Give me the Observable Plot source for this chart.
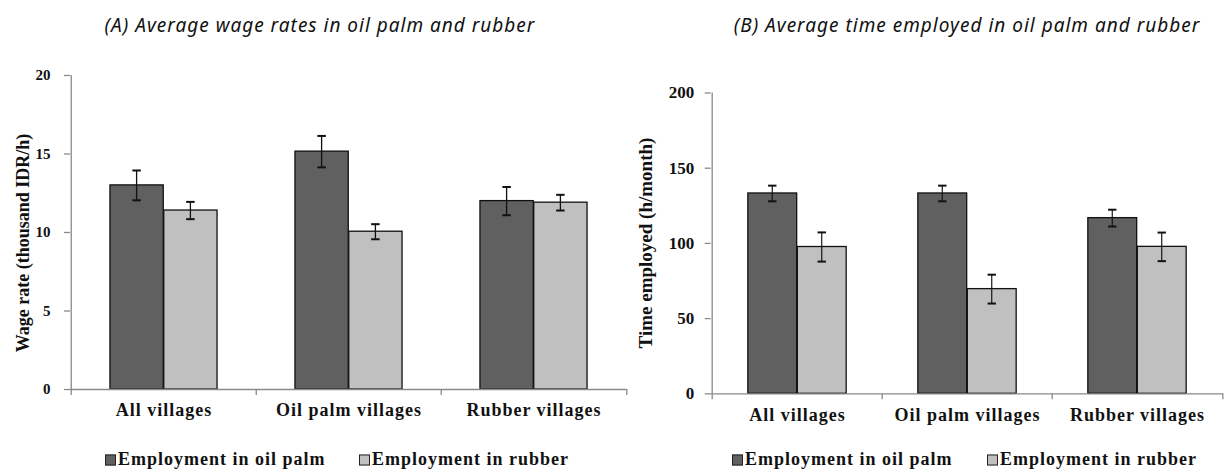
<!DOCTYPE html>
<html>
<head>
<meta charset="utf-8">
<script src="https://cdn.jsdelivr.net/npm/d3@7"></script>
<script src="https://cdn.jsdelivr.net/npm/@observablehq/plot@0.6"></script>
<style>
  html, body { margin: 0; padding: 0; background: #fff; }
  #root { position: relative; width: 1228px; height: 470px; overflow: hidden; background: #fff; }
  #root svg { position: absolute; top: 0; background: transparent; max-width: none; }
  .title { position: absolute; font-family: "Noto Sans", sans-serif; font-style: italic; font-size: 19px; letter-spacing: 1px; color: #111; white-space: nowrap; transform: translate(-50%, -50%); }
  .ylab { position: absolute; font-family: "Liberation Serif", serif; font-weight: bold; color: #111; white-space: nowrap; transform: translate(-50%, -50%) rotate(-90deg); }
  .leg { position: absolute; font-family: "Liberation Serif", serif; font-weight: bold; font-size: 18px; letter-spacing: 1px; color: #111; white-space: nowrap; transform: translateY(-50%); }
  .sw { position: absolute; width: 9px; height: 9px; border: 1px solid #222; transform: translateY(-50%); }
  g[aria-label="x-axis tick label"] text { letter-spacing: 1px; }
</style>
</head>
<body>
<div id="root"></div>
<script>
const categories = ["All villages", "Oil palm villages", "Rubber villages"];
const series = ["Employment in oil palm", "Employment in rubber"];
const seriesColors = ["#606060", "#c0c0c0"];

// (A) wage rates, thousand IDR/h
const wageOilPalm = [13.0, 15.15, 12.0];
const wageOilPalmErr = [0.95, 1.0, 0.9];
const wageRubber = [11.4, 10.05, 11.9];
const wageRubberErr = [0.55, 0.48, 0.5];
const wageTicks = [0, 5, 10, 15, 20];

// (B) time employed, h/month
const timeOilPalm = [133.2, 133.2, 116.8];
const timeOilPalmErr = [5.2, 5.2, 5.6];
const timeRubber = [97.6, 69.6, 97.7];
const timeRubberErr = [9.7, 9.6, 9.5];
const timeTicks = [0, 50, 100, 150, 200];

const titleA = "(A) Average wage rates in oil palm and rubber";
const titleB = "(B) Average time employed in oil palm and rubber";
const ylabA = "Wage rate (thousand IDR/h)";
const ylabB = "Time employed (h/month)";

function rowsOf(vals0, errs0, vals1, errs1) {
  const rows = [];
  categories.forEach((c, i) => {
    rows.push({cat: c, series: series[0], s: 0, v: vals0[i], e: errs0[i]});
    rows.push({cat: c, series: series[1], s: 1, v: vals1[i], e: errs1[i]});
  });
  return rows;
}

function makeChart(cfg) {
  const plotW = cfg.width - cfg.marginLeft - cfg.marginRight;
  const bw = plotW / categories.length;
  const barW = 0.29 * bw;
  const cap = 4.5;
  const lw = 0.9;
  const rows = cfg.rows;
  const marks = [];
  [0, 1].forEach(s => {
    const data = rows.filter(r => r.s === s);
    const left = s === 0 ? bw / 2 - barW : bw / 2;
    const right = bw - left - barW;
    marks.push(Plot.barY(data, {x: "cat", y: "v", fill: "series", stroke: "#111", strokeWidth: 1.3, insetLeft: left, insetRight: right}));
  });
  marks.push(Plot.ruleY([0], {stroke: "#8a8a8a", strokeWidth: 1.3}));
  marks.push(Plot.ruleX(categories, {x: d => d, dx: -bw / 2, y1: 0, y2: 0, insetBottom: -6, stroke: "#8a8a8a", strokeWidth: 1.3}));
  marks.push(Plot.ruleX(categories.slice(-1), {x: d => d, dx: bw / 2, y1: 0, y2: 0, insetBottom: -6, stroke: "#8a8a8a", strokeWidth: 1.3}));
  marks.push(Plot.ruleX(categories.slice(0, 1), {x: d => d, dx: -bw / 2, y1: 0, y2: cfg.yMax, stroke: "#8a8a8a", strokeWidth: 1.3}));
  [0, 1].forEach(s => {
    const data = rows.filter(r => r.s === s);
    const center = s === 0 ? bw / 2 - barW / 2 : bw / 2 + barW / 2;
    marks.push(Plot.barY(data, {x: "cat", y1: r => r.v - r.e, y2: r => r.v + r.e, fill: "#111", insetLeft: center - lw, insetRight: bw - center - lw}));
    marks.push(Plot.tickY(data, {x: "cat", y: r => r.v + r.e, stroke: "#111", strokeWidth: 2, insetLeft: center - cap, insetRight: bw - center - cap}));
    marks.push(Plot.tickY(data, {x: "cat", y: r => r.v - r.e, stroke: "#111", strokeWidth: 2, insetLeft: center - cap, insetRight: bw - center - cap}));
  });
  marks.push(Plot.axisY({ticks: cfg.ticks, tickSize: cfg.tickSize, tickPadding: cfg.tickPadding, stroke: "#8a8a8a", strokeWidth: 1.3, fill: "#111", fontSize: cfg.tickFont, fontWeight: "bold", label: null, tickFormat: d => String(d)}));
  marks.push(Plot.axisX({tickSize: 0, tickPadding: 14, fontSize: 18, fontWeight: "bold", fill: "#111", label: null}));
  const svg = Plot.plot({
    width: cfg.width,
    height: cfg.height,
    marginLeft: cfg.marginLeft,
    marginRight: cfg.marginRight,
    marginTop: cfg.marginTop,
    marginBottom: cfg.marginBottom,
    style: {fontFamily: "'Liberation Serif', serif", background: "transparent", color: "#111"},
    x: {domain: categories, padding: 0, axis: null},
    y: {domain: [0, cfg.yMax], axis: null},
    color: {domain: series, range: seriesColors},
    marks
  });
  svg.style.left = cfg.left + "px";
  return svg;
}

const root = document.getElementById("root");

root.appendChild(makeChart({
  left: 0, width: 640, height: 440,
  marginLeft: 70, marginRight: 13.5, marginTop: 75, marginBottom: 51,
  yMax: 20, ticks: wageTicks, tickSize: 6, tickPadding: 14, tickFont: 15,
  rows: rowsOf(wageOilPalm, wageOilPalmErr, wageRubber, wageRubberErr)
}));

root.appendChild(makeChart({
  left: 614, width: 614, height: 444,
  marginLeft: 96.7, marginRight: 5.4, marginTop: 92.5, marginBottom: 50.7,
  yMax: 200, ticks: timeTicks, tickSize: 6, tickPadding: 11, tickFont: 17,
  rows: rowsOf(timeOilPalm, timeOilPalmErr, timeRubber, timeRubberErr)
}));

function addDiv(cls, text, x, y, extra) {
  const d = document.createElement("div");
  d.className = cls;
  d.textContent = text;
  d.style.left = x + "px";
  d.style.top = y + "px";
  if (extra) Object.assign(d.style, extra);
  root.appendChild(d);
  return d;
}

addDiv("title", titleA, 320, 25);
addDiv("title", titleB, 967, 25);
addDiv("ylab", ylabA, 23, 243, {fontSize: "18px"});
addDiv("ylab", ylabB, 646, 243, {fontSize: "19px"});

function legend(items) {
  items.forEach(it => {
    const sw = document.createElement("div");
    sw.className = "sw";
    sw.style.left = it.sx + "px";
    sw.style.top = "460px";
    sw.style.background = it.color;
    root.appendChild(sw);
    addDiv("leg", it.label, it.tx, 459);
  });
}
legend([
  {label: series[0], color: seriesColors[0], sx: 105, tx: 118},
  {label: series[1], color: seriesColors[1], sx: 359, tx: 372}
]);
legend([
  {label: series[0], color: seriesColors[0], sx: 732, tx: 745},
  {label: series[1], color: seriesColors[1], sx: 987, tx: 1000}
]);
</script>
</body>
</html>
